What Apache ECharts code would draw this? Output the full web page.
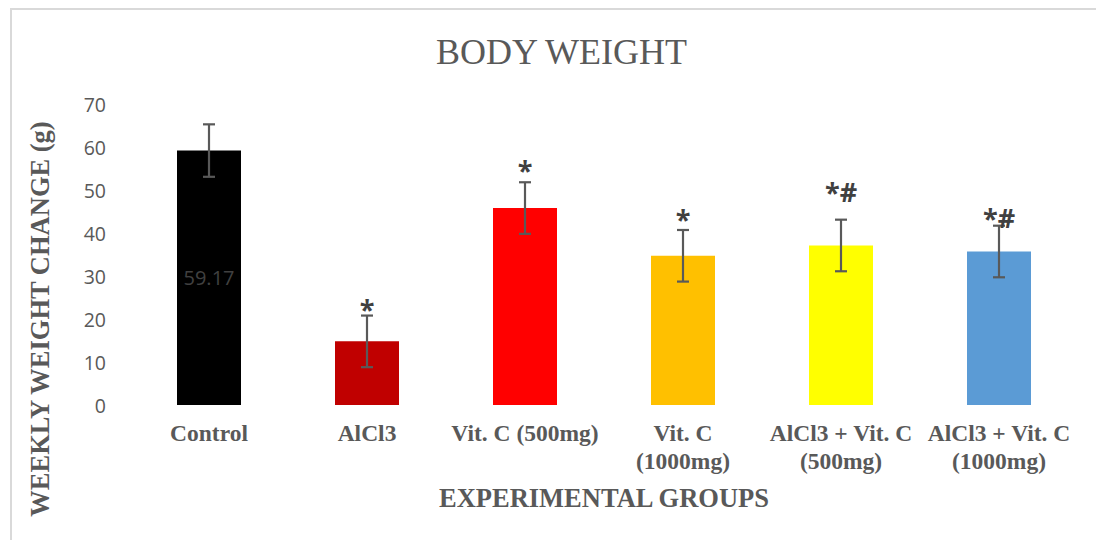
<!DOCTYPE html>
<html>
<head>
<meta charset="utf-8">
<script src="https://cdn.jsdelivr.net/npm/echarts@6/dist/echarts.min.js"></script>
<style>
html,body{margin:0;padding:0;background:#fff;}
#chart{width:1096px;height:540px;}
</style>
</head>
<body>
<div id="chart"></div>
<script>
// ---- data ----
const categories = ['Control', 'AlCl3', 'Vit. C (500mg)', 'Vit. C\n(1000mg)', 'AlCl3 + Vit. C\n(500mg)', 'AlCl3 + Vit. C\n(1000mg)'];
const means = [59.17, 14.8, 45.8, 34.7, 37.1, 35.7];
const sds = [6.1, 6.0, 6.0, 6.0, 6.0, 6.0];
const barColors = ['#000000', '#C00000', '#FF0000', '#FFC000', '#FFFF00', '#5B9BD5'];
const marks = ['', '*', '*', '*', '*#', '*#'];
const markY = [0, 19.3, 51.7, 40.3, 46.6, 40.4];
const yTicks = [0, 10, 20, 30, 40, 50, 60, 70];

const chart = echarts.init(document.getElementById('chart'), null, {renderer: 'svg'});

const option = {
  backgroundColor: '#ffffff',
  animation: false,
  title: {
    text: 'BODY WEIGHT',
    left: 431,
    top: 29,
    textStyle: {fontFamily: 'Liberation Serif', fontWeight: 'normal', fontSize: 36, color: '#595959'}
  },
  graphic: [
    {type: 'rect', shape: {x: 11, y: 9, width: 1200, height: 700}, style: {fill: 'none', stroke: '#d9d9d9', lineWidth: 2}, silent: true},
    {type: 'text', x: 40, y: 319, rotation: Math.PI / 2,
     style: {text: 'WEEKLY WEIGHT CHANGE (g)', fontFamily: 'Liberation Serif', fontWeight: 'bold', fontSize: 26.5, fill: '#595959', align: 'center', verticalAlign: 'middle'}}
  ],
  grid: {left: 130, right: 18, top: 104, bottom: 135, containLabel: false},
  xAxis: {
    type: 'category',
    data: categories,
    axisLine: {show: false},
    axisTick: {show: false},
    splitLine: {show: false},
    axisLabel: {interval: 0, margin: 14, fontFamily: 'Liberation Serif', fontWeight: 'bold', fontSize: 23.5, lineHeight: 28, color: '#595959'},
    name: 'EXPERIMENTAL GROUPS',
    nameLocation: 'middle',
    nameGap: 79,
    nameTextStyle: {fontFamily: 'Liberation Serif', fontWeight: 'bold', fontSize: 26.5, color: '#595959'}
  },
  yAxis: {
    type: 'value',
    min: yTicks[0],
    max: yTicks[yTicks.length - 1],
    interval: 10,
    axisLine: {show: false},
    axisTick: {show: false},
    splitLine: {show: false},
    axisLabel: {margin: 24, fontFamily: 'Open Sans', fontSize: 19.5, color: '#595959'}
  },
  series: [
    {
      type: 'bar',
      barWidth: 64,
      data: means.map((v, i) => ({
        value: v,
        itemStyle: {color: barColors[i]},
        label: i === 0 ? {show: true, position: 'inside', formatter: '{c}', fontFamily: 'Open Sans', fontSize: 20, color: '#404040'} : {show: false}
      }))
    },
    {
      type: 'custom',
      data: means.map((m, i) => [i, m - sds[i], m + sds[i]]),
      renderItem: function (params, api) {
        const lo = api.coord([api.value(0), api.value(1)]);
        const hi = api.coord([api.value(0), api.value(2)]);
        const hw = 6;
        const st = {stroke: '#595959', lineWidth: 2.2};
        return {
          type: 'group',
          children: [
            {type: 'line', shape: {x1: lo[0], y1: lo[1], x2: hi[0], y2: hi[1]}, style: st},
            {type: 'line', shape: {x1: lo[0] - hw, y1: lo[1], x2: lo[0] + hw, y2: lo[1]}, style: st},
            {type: 'line', shape: {x1: hi[0] - hw, y1: hi[1], x2: hi[0] + hw, y2: hi[1]}, style: st}
          ]
        };
      },
      z: 3
    },
    {
      type: 'custom',
      data: marks.map((t, i) => [i, markY[i], t]),
      renderItem: function (params, api) {
        const t = marks[params.dataIndex];
        if (!t) return null;
        const p = api.coord([api.value(0), api.value(1)]);
        return {
          type: 'text',
          x: p[0], y: p[1],
          style: {text: t, fontFamily: 'Open Sans', fontWeight: 'bold', fontSize: 27, fill: '#404040', align: 'center', verticalAlign: 'bottom'}
        };
      },
      z: 4
    }
  ]
};
chart.setOption(option);
</script>
</body>
</html>
